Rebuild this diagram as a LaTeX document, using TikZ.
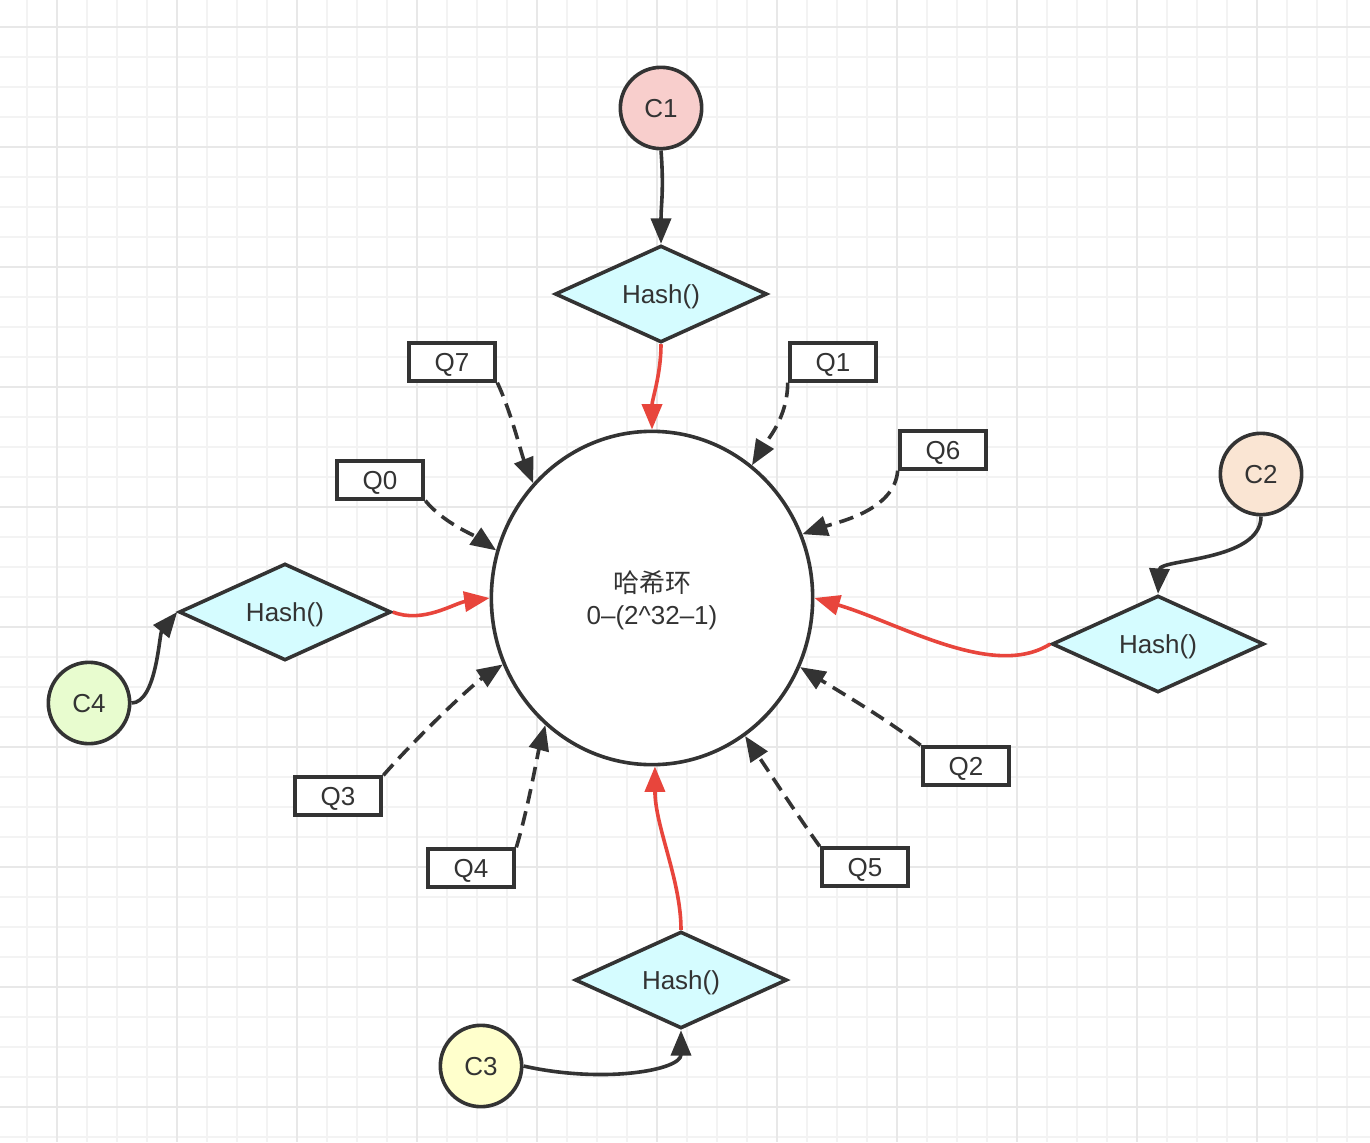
\documentclass[tikz,border=0pt]{standalone}
\usepackage{fontspec}
\setmainfont{Liberation Sans}
\newfontfamily\cjk{Noto Sans CJK SC}
\usetikzlibrary{arrows.meta,shapes.geometric}
\definecolor{ink}{HTML}{333333}
\definecolor{hashred}{HTML}{E8453C}
\definecolor{hashfill}{HTML}{D5FCFF}
\definecolor{cpink}{HTML}{F8CECC}
\definecolor{cpeach}{HTML}{FAE5D3}
\definecolor{cyellow}{HTML}{FFFFCC}
\definecolor{cgreen}{HTML}{E8FCCF}
\definecolor{gridminor}{HTML}{F3F3F3}
\definecolor{gridmajor}{HTML}{E8E8E8}
\tikzstyle{every node}=[font=\fontsize{19.5}{24}\selectfont,text=ink,text depth=0pt]
\tikzstyle{client}=[circle,draw=ink,line width=2.7pt,minimum size=61pt,inner sep=0pt]
\tikzstyle{hashbox}=[diamond,draw=ink,fill=hashfill,line width=2.7pt,minimum width=159pt,minimum height=70pt,inner sep=0pt]
\tikzstyle{qbox}=[rectangle,draw=ink,fill=white,line width=3pt,minimum width=65pt,minimum height=28pt,inner sep=0pt]
\tikzstyle{ring}=[ellipse,draw=ink,fill=white,line width=2.7pt,minimum width=241pt,minimum height=250pt,align=center]
\tikzstyle{link}=[draw=ink,line width=2.7pt,-{Triangle[length=19pt,width=15pt]}]
\tikzstyle{dashlink}=[link,dash pattern=on 11pt off 6pt]
\tikzstyle{redlink}=[link,draw=hashred]

\begin{document}
\begin{tikzpicture}[x=0.75pt,y=-0.75pt]
  \useasboundingbox (0,0) rectangle (1370,1142);
  % grid paper
  \fill[white] (0,0) rectangle (1370,1142);
  \foreach \k in {0,...,44} \draw[gridminor,line width=1.2pt] (27+30*\k,0) -- (27+30*\k,1142);
  \foreach \k in {0,...,37} \draw[gridminor,line width=1.2pt] (0,27+30*\k) -- (1370,27+30*\k);
  \foreach \k in {0,...,10} \draw[gridmajor,line width=1.2pt] (57+120*\k,0) -- (57+120*\k,1142);
  \foreach \k in {0,...,9} \draw[gridmajor,line width=1.2pt] (0,27+120*\k) -- (1370,27+120*\k);

  \node[ring]              (ring) at (652,598)  {{\cjk 哈希环}\\0–(2\textasciicircum32–1)};
  \node[client,fill=cpink]   (c1) at (661,108)  {C1};
  \node[client,fill=cpeach]  (c2) at (1261,474) {C2};
  \node[client,fill=cyellow] (c3) at (481,1066) {C3};
  \node[client,fill=cgreen]  (c4) at (89,703)   {C4};
  \node[hashbox]             (h1) at (661,294)  {Hash()};
  \node[hashbox]             (h2) at (1158,644) {Hash()};
  \node[hashbox]             (h3) at (681,980)  {Hash()};
  \node[hashbox]             (h4) at (285,612)  {Hash()};
  \node[qbox]                (q0) at (380,480)  {Q0};
  \node[qbox]                (q1) at (833,362)  {Q1};
  \node[qbox]                (q2) at (966,766)  {Q2};
  \node[qbox]                (q3) at (338,796)  {Q3};
  \node[qbox]                (q4) at (471,868)  {Q4};
  \node[qbox]                (q5) at (865,867)  {Q5};
  \node[qbox]                (q6) at (943,450)  {Q6};
  \node[qbox]                (q7) at (452,362)  {Q7};

  % clients into hash
  \draw[link] (c1.south) .. controls +(3,40) and +(0,-40) .. (h1.north);
  \draw[link] (c2.south) .. controls +(0,45) and +(2,-35) .. (h2.north);
  \draw[link] (c3.east) .. controls +(80,18) and +(0,40) .. (h3.south);
  \draw[link] (c4.east) .. controls +(25,0) and +(-18,22) .. (h4.west);

  % hash onto ring
  \draw[redlink] (h1.south) .. controls +(0,30) and +(0,-30) .. (ring.90);
  \draw[redlink] (h2.west) .. controls +(-57,36) and +(85,25) .. (ring.0);
  \draw[redlink] (h3.north) .. controls +(0,-50) and +(0,60) .. (ring.-89);
  \draw[redlink] (h4.east) .. controls +(30,12) and +(-35,5) .. (ring.180);

  % nodes onto ring
  \draw[dashlink] (q0.south east) .. controls +(18,22) and +(-22,-15) .. (ring.163);
  \draw[dashlink] (q1.south west) .. controls +(0,35) and +(15,-25) .. (ring.53);
  \draw[dashlink] (q2.north west) .. controls +(-40,-30) and +(40,25) .. (ring.-25);
  \draw[dashlink] (q3.north east) .. controls +(35,-40) and +(-30,20) .. (ring.204);
  \draw[dashlink] (q4.north east) .. controls +(12,-40) and +(-8,30) .. (ring.230);
  \draw[dashlink] (q5.north west) .. controls +(-25,-35) and +(20,30) .. (ring.-56);
  \draw[dashlink] (q6.south west) .. controls +(-3,40) and +(35,-12) .. (ring.23);
  \draw[dashlink] (q7.south east) .. controls +(14,30) and +(-12,-30) .. (ring.136);
\end{tikzpicture}
\end{document}
